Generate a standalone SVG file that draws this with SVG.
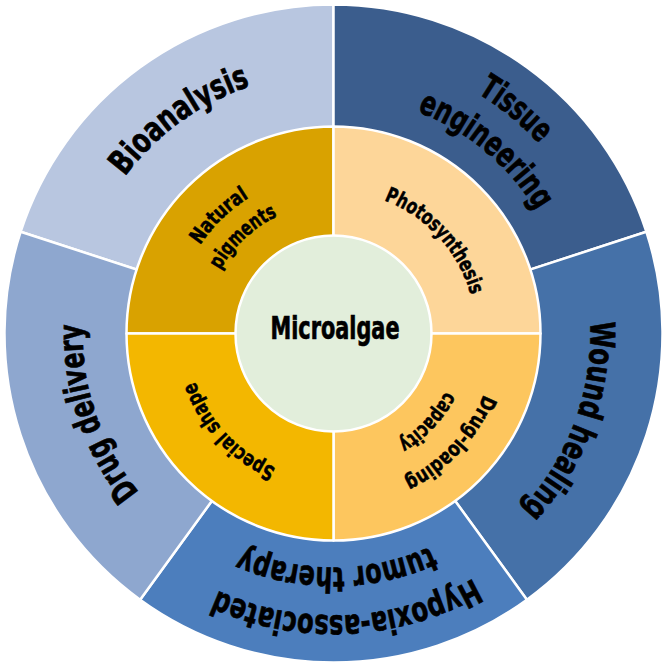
<svg xmlns="http://www.w3.org/2000/svg" xmlns:xlink="http://www.w3.org/1999/xlink" width="667" height="667" viewBox="0 0 667 667">
<style>
.seg{stroke:#ffffff;stroke-width:2.5;stroke-linejoin:round}
.t{font-family:'DejaVu Sans Condensed','DejaVu Sans',sans-serif;font-weight:bold;fill:#000000;stroke:#000000;stroke-width:0.7;text-anchor:middle}
.o{font-size:34px}
.i{font-size:21px;stroke-width:0.5}
</style>
<defs>
<path id="r261" d="M -226.0 130.5 A 261 261 0 1 1 226.0 130.5"/>
<path id="r280" d="M -242.5 140 A 280 280 0 1 1 242.5 140"/>
<path id="r237" d="M -205.2 118.5 A 237 237 0 1 1 205.2 118.5"/>
<path id="r257" d="M -222.6 128.5 A 257 257 0 1 1 222.6 128.5"/>
<path id="r282" d="M -244.2 141 A 282 282 0 1 1 244.2 141"/>
<path id="r234" d="M -202.6 117 A 234 234 0 1 1 202.6 117"/>
<path id="r251" d="M -217.4 125.5 A 251 251 0 1 1 217.4 125.5"/>
<path id="r160" d="M -138.6 80 A 160 160 0 1 1 138.6 80"/>
<path id="r130" d="M -112.6 65 A 130 130 0 1 1 112.6 65"/>
<path id="r142" d="M -123.4 71.25 A 142.5 142.5 0 1 1 123.4 71.25"/>
<path id="r162" d="M -140.3 81 A 162 162 0 1 1 140.3 81"/>
<path id="r126" d="M -109.1 63 A 126 126 0 1 1 109.1 63"/>
<path id="r146" d="M -126.9 73.25 A 146.5 146.5 0 1 1 126.9 73.25"/>
</defs>

<g id="connectors"></g>

<g id="bioanalysis">
<path class="seg" fill="#b8c6e0" d="M 333.5 333.5 L 20.6 231.8 A 329 329 0 0 1 333.5 4.5 Z"/>
<text class="t o" transform="translate(333.5 333.5) rotate(324.2)"><textPath xlink:href="#r261" href="#r261" startOffset="50%" textLength="157" lengthAdjust="spacingAndGlyphs">Bioanalysis</textPath></text>
</g>

<g id="tissue-engineering">
<path class="seg" fill="#3b5d8d" d="M 333.5 333.5 L 333.5 4.5 A 329 329 0 0 1 646.4 231.8 Z"/>
<text class="t o" transform="translate(333.5 333.5) rotate(39.1)"><textPath xlink:href="#r280" href="#r280" startOffset="50%" textLength="80" lengthAdjust="spacingAndGlyphs">Tissue</textPath></text>
<text class="t o" transform="translate(333.5 333.5) rotate(39.75)"><textPath xlink:href="#r237" href="#r237" startOffset="50%" textLength="158" lengthAdjust="spacingAndGlyphs">engineering</textPath></text>
</g>

<g id="wound-healing">
<path class="seg" fill="#4571a8" d="M 333.5 333.5 L 646.4 231.8 A 329 329 0 0 1 526.9 599.7 Z"/>
<text class="t o" transform="translate(333.5 333.5) rotate(110.2)"><textPath xlink:href="#r257" href="#r257" startOffset="50%" textLength="205" lengthAdjust="spacingAndGlyphs">Wound healing</textPath></text>
</g>

<g id="hypoxia-tumor-therapy">
<path class="seg" fill="#4c7ebd" d="M 333.5 333.5 L 526.9 599.7 A 329 329 0 0 1 140.1 599.7 Z"/>
<text class="t o" transform="translate(333.5 333.5) rotate(177.3)"><textPath xlink:href="#r282" href="#r282" startOffset="50%" textLength="266" lengthAdjust="spacingAndGlyphs">Hypoxia-associated</textPath></text>
<text class="t o" transform="translate(333.5 333.5) rotate(179.3)"><textPath xlink:href="#r234" href="#r234" startOffset="50%" textLength="194" lengthAdjust="spacingAndGlyphs">tumor therapy</textPath></text>
</g>

<g id="drug-delivery">
<path class="seg" fill="#8ea7cf" d="M 333.5 333.5 L 140.1 599.7 A 329 329 0 0 1 20.6 231.8 Z"/>
<text class="t o" transform="translate(333.5 333.5) rotate(251.4)"><textPath xlink:href="#r251" href="#r251" startOffset="50%" textLength="181" lengthAdjust="spacingAndGlyphs">Drug delivery</textPath></text>
</g>

<g id="natural-pigments">
<path class="seg" fill="#d9a200" d="M 333.5 333.5 L 126.5 333.5 A 207 207 0 0 1 333.5 126.5 Z"/>
<text class="t i" transform="translate(333.5 333.5) rotate(315.75)"><textPath xlink:href="#r160" href="#r160" startOffset="50%" textLength="69" lengthAdjust="spacingAndGlyphs">Natural</textPath></text>
<text class="t i" transform="translate(333.5 333.5) rotate(316.85)"><textPath xlink:href="#r130" href="#r130" startOffset="50%" textLength="80" lengthAdjust="spacingAndGlyphs">pigments</textPath></text>
</g>

<g id="photosynthesis">
<path class="seg" fill="#fdd699" d="M 333.5 333.5 L 333.5 126.5 A 207 207 0 0 1 540.5 333.5 Z"/>
<text class="t i" transform="translate(333.5 333.5) rotate(47.55)"><textPath xlink:href="#r142" href="#r142" startOffset="50%" textLength="133" lengthAdjust="spacingAndGlyphs">Photosynthesis</textPath></text>
</g>

<g id="drug-loading-capacity">
<path class="seg" fill="#fdc65e" d="M 333.5 333.5 L 540.5 333.5 A 207 207 0 0 1 333.5 540.5 Z"/>
<text class="t i" transform="translate(333.5 333.5) rotate(133.15)"><textPath xlink:href="#r162" href="#r162" startOffset="50%" textLength="119" lengthAdjust="spacingAndGlyphs">Drug-loading</textPath></text>
<text class="t i" transform="translate(333.5 333.5) rotate(133.3)"><textPath xlink:href="#r126" href="#r126" startOffset="50%" textLength="70" lengthAdjust="spacingAndGlyphs">capacity</textPath></text>
</g>

<g id="special-shape">
<path class="seg" fill="#f3b700" d="M 333.5 333.5 L 333.5 540.5 A 207 207 0 0 1 126.5 333.5 Z"/>
<text class="t i" transform="translate(333.5 333.5) rotate(226.95)"><textPath xlink:href="#r146" href="#r146" startOffset="50%" textLength="122" lengthAdjust="spacingAndGlyphs">Special shape</textPath></text>
</g>

<g id="microalgae">
<circle class="seg" cx="333.5" cy="333.5" r="98" fill="#e2eedb"/>
<text class="t" x="335" y="339" font-size="32" textLength="129" lengthAdjust="spacingAndGlyphs">Microalgae</text>
</g>
</svg>
